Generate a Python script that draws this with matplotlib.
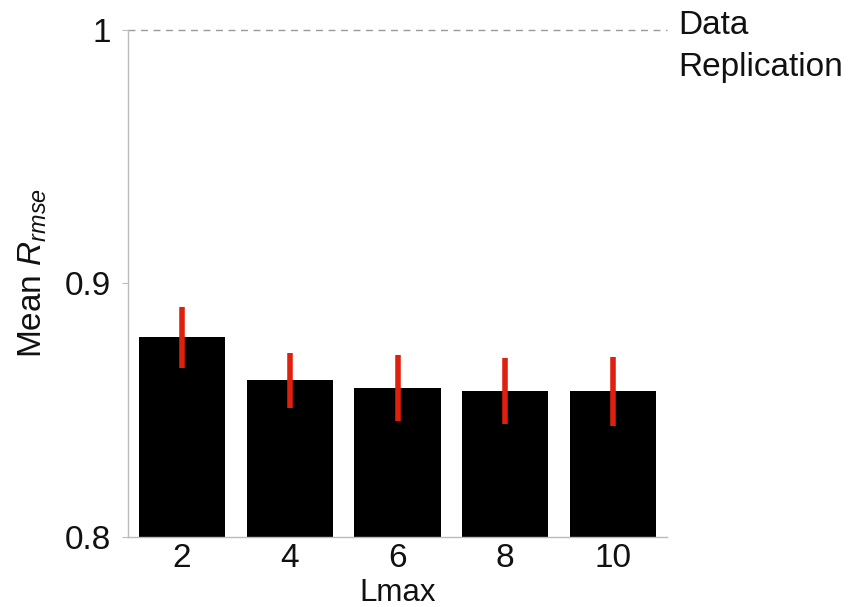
import matplotlib
matplotlib.use("Agg")
import matplotlib.pyplot as plt
import numpy as np

# data
lmax = ["2", "4", "6", "8", "10"]
mean_rrmse = [0.8787, 0.8618, 0.8589, 0.8576, 0.8574]
err = [0.0120, 0.0108, 0.0130, 0.0130, 0.0135]
replication = 1.0

plt.rcParams['font.family'] = ['Liberation Sans', 'DejaVu Sans']
plt.rcParams['mathtext.fontset'] = 'custom'
plt.rcParams['mathtext.rm'] = 'Liberation Sans'
plt.rcParams['mathtext.it'] = 'Liberation Sans:italic'

fig = plt.figure(figsize=(8.49, 6.07), dpi=100)
ax = fig.add_axes([0.1508, 0.1153, 0.6348, 0.8353])

x = np.arange(len(lmax))
ax.bar(x, mean_rrmse, width=0.8, color='black', zorder=2)
ax.errorbar(x, mean_rrmse, yerr=err, fmt='none', ecolor='#e0200f',
            elinewidth=4, capsize=0, zorder=3)

ax.axhline(replication, color='#999999', linestyle=(0, (5, 4)), linewidth=1,
           clip_on=False, zorder=1)
ax.text(4.6, replication + 0.0078, "Data\nReplication", fontsize=24, va='top',
        ha='left', linespacing=1.45, color='#111111', clip_on=False)

ax.set_xlim(-0.5, 4.5)
ax.set_ylim(0.8, 1.0)
ax.set_xticks(x)
ax.set_xticklabels(lmax)
ax.set_yticks([0.8, 0.9, 1.0])
ax.set_yticklabels(["0.8", "0.9", "1"])
ax.tick_params(axis='both', labelsize=24, colors='#bbbbbb', labelcolor='#111111')
ax.tick_params(axis='x', length=0, pad=4)
ax.tick_params(axis='y', length=4, direction='out', pad=8)

for s in ['top', 'right']:
    ax.spines[s].set_visible(False)
for s in ['left', 'bottom']:
    ax.spines[s].set_color('#bbbbbb')
    ax.spines[s].set_linewidth(1)

ax.set_xlabel("Lmax", fontsize=22.5, color='#111111', labelpad=3)
ax.set_ylabel("Mean $R_{rmse}$", fontsize=24, color='#111111', labelpad=12)
ax.yaxis.set_label_coords(-0.147, 0.52)

fig.savefig("out.png", dpi=100)
